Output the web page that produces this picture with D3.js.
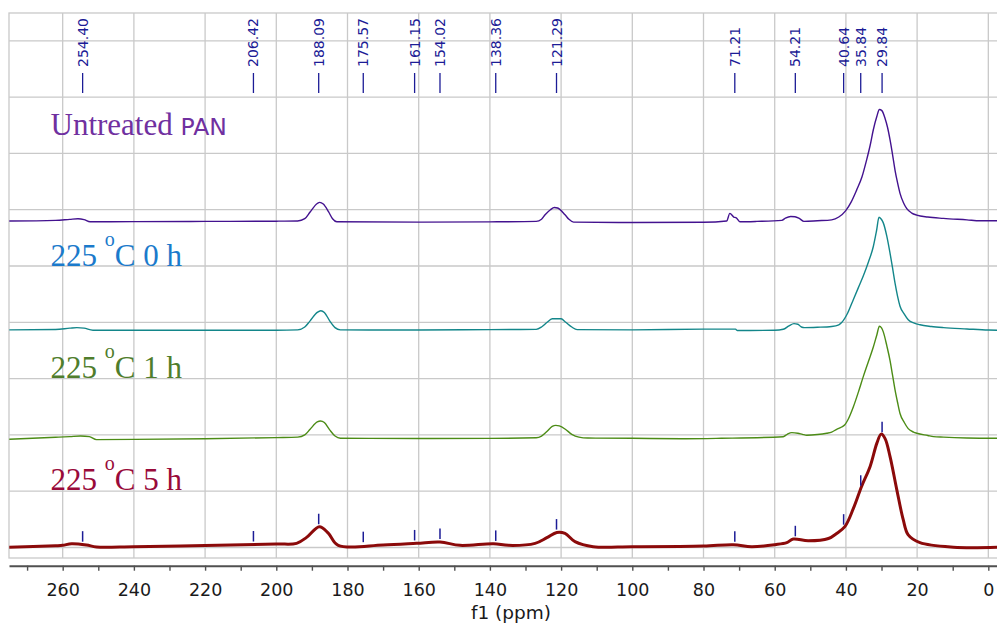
<!DOCTYPE html>
<html>
<head>
<meta charset="utf-8">
<script src="https://cdn.jsdelivr.net/npm/d3@7/dist/d3.min.js"></script>
<style>
  html, body { margin: 0; padding: 0; background: #fff; }
  svg { display: block; }
</style>
</head>
<body>
<svg id="chart" width="997" height="623"></svg>
<script>
// 13C NMR spectra (ppm, relative intensity in % of the tallest peak)
const untreatedPAN = [
  [275, 0.9], [262, 1.5], [258, 2.4], [255.7, 2.9], [254, 2.2], [252.3, 0.3], [240, 0.4], [220, 0.6],
  [200, 0.8], [194, 1.0], [192, 3], [190.5, 9], [188.5, 16.5], [187.8, 17.5], [186.8, 16], [185.3, 9],
  [184.2, 3], [183, 0.3], [160, 0], [140, 0.2], [127, 0.6], [125.5, 2.5], [124.5, 6.5], [123, 11],
  [121.9, 13], [121, 12.5], [118.9, 6.5], [117.8, 2.5], [116.5, 0], [100, -0.4], [80, -0.2], [73.5, 1],
  [72.6, 7.7], [71.5, 4.5], [70.8, 3.8], [69.8, 0.3], [65, 0.6], [58, 1.5], [57, 3.5], [55.5, 5],
  [54.3, 4.8], [53, 3], [51.8, 0.6], [48, 1.2], [44, 2], [42, 4.5], [40.1, 10], [38.5, 18], [37, 28.4],
  [35.5, 40], [34.2, 55], [33.2, 68], [32.3, 82], [31.3, 94], [30.6, 100], [29.9, 99], [29, 92],
  [28.3, 84], [27.6, 73], [26.9, 60], [26.2, 46], [25.5, 35], [24.8, 25.5], [23.8, 17], [22.9, 12],
  [21.5, 8], [20.1, 6.2], [17, 4.5], [12.6, 3.3], [6, 2], [2.3, 1.2], [-3, 1.2]
];
const heated0h = [
  [275, 0], [262, 0.3], [258, 1.5], [256, 2], [254, 1.5], [251.5, -0.4], [240, -0.4], [200, -0.4],
  [194, 0], [192, 2.5], [190.5, 8], [188.5, 15.5], [187.5, 17], [186.5, 15.5], [185, 8], [183.5, 2],
  [182, 0], [160, -0.2], [140, 0.2], [127, 0.4], [125.5, 2.5], [124, 6.5], [122.5, 9.8], [120, 9.8],
  [118.8, 7], [117, 2.5], [115.5, 0.2], [100, 0], [80, 0.6], [71, 0.6], [70.5, -0.6], [60, -0.4],
  [57.6, 0.5], [56, 3.5], [54.6, 5.5], [53.5, 5], [52.5, 2.5], [51.6, 2], [48, 2.3], [44, 3], [42, 4.5],
  [41.2, 6.5], [39.5, 15], [37.9, 27], [36.5, 37.5], [35.1, 48], [33.7, 60], [32.3, 74], [31.4, 88],
  [30.7, 100], [30, 98], [29.5, 95], [28.5, 83], [27.6, 68], [26.9, 55], [26.2, 41.5], [25.5, 30],
  [24.8, 21], [23.6, 14], [22.5, 9], [20.8, 6], [19.2, 4.5], [16, 3], [12.6, 2], [6, 0.8], [0, -0.2],
  [-3, -0.4]
];
const heated1h = [
  [275, -0.9], [262, 0.9], [258, 1.5], [255, 2], [252.5, 1.5], [250.5, -1.2], [240, -1], [220, -0.4],
  [200, 0.6], [194, 1], [192, 3], [190.5, 8], [188.5, 14.5], [187.6, 15.4], [186.5, 14], [185, 7.5],
  [183.5, 2], [182, 0], [160, -0.2], [140, -0.1], [127, 0.5], [125.5, 2], [124, 6], [122.5, 10.5],
  [121.5, 11.5], [120.5, 11], [118.8, 8], [117, 3.5], [115, 1], [112.5, 0.2], [100, 0], [85, -0.4],
  [75, 0], [57.6, 1.4], [56.5, 3.5], [55.2, 5], [53.5, 4.5], [52.2, 3.5], [51, 2.7], [48, 3.3],
  [45.4, 4.5], [44, 5.5], [42.6, 8], [41.2, 10], [40.3, 12], [39.5, 16], [37.9, 28], [36.5, 41],
  [35.1, 55], [33.7, 68], [32.3, 81], [31.3, 92], [30.6, 99.5], [30, 98], [29.5, 94.5], [28.5, 82],
  [27.6, 69], [26.9, 56], [26.2, 43], [25.5, 32], [24.8, 22], [23.6, 14], [22.5, 8.6], [21, 5.5],
  [20.1, 4.5], [17, 2.5], [15.4, 1.5], [12.6, 1], [6, 0.3], [-3, 0]
];
const heated5h = [
  [275, -0.5], [262, 0.8], [260, 1.2], [257.5, 2.7], [253.3, 1.5], [250.5, -0.3], [240, 0], [220, 1],
  [200, 2.4], [194.3, 3], [191.5, 8.3], [187.9, 17.8], [185.4, 12], [182.6, 1.2], [170, 1.5],
  [160.6, 3], [154, 4.2], [148.4, 1.2], [139, 2.7], [134.8, 1.2], [127.3, 3], [124, 8], [121.2, 12.7],
  [118.9, 11.8], [116.1, 4.5], [111, 0], [100, 0], [80, 0.6], [71.6, 1.8], [66.5, 0], [59.9, 1.8],
  [56.6, 3.6], [54.8, 6.8], [50.6, 5.3], [44.9, 7.3], [42.6, 11.8], [40.3, 17.8], [37.9, 34],
  [35.6, 53.5], [33.2, 71.3], [31.3, 92], [30.1, 100], [29, 96], [27.6, 80], [25.7, 50.5], [23.9, 24],
  [22.5, 10.5], [19.2, 3.6], [9.8, -0.4], [-3, -0.4]
];

// stacking offsets (same intensity units) and legend text
const spectraNames = ["Untreated PAN", "225 °C 0 h", "225 °C 1 h", "225 °C 5 h"];
const stackOffsets = [289, 193.3, 97, 0.7];
const lineColors = ["#43128f", "#13868a", "#4c8c16", "#8b0a0a"];
const labelColors = ["#7030a0", "#1b7acb", "#4f7d2c", "#990a3a"];

// picked peaks (ppm) of the 225 °C 5 h spectrum
const peakLabels = [254.40, 206.42, 188.09, 175.57, 161.15, 154.02, 138.36, 121.29, 71.21, 54.21, 40.64, 35.84, 29.84];

// axis ticks
const xTickValues = d3.range(0, 271, 10);
const xLabelValues = d3.range(0, 261, 20);
const yGridValues = d3.range(0, 451, 50);

const svg = d3.select("#chart");
const plotLeft = 9, plotRight = 998, plotTop = 13, plotBottom = 558;

const x = d3.scaleLinear().domain([275.08, -2.72]).range([plotLeft, plotRight]);
const y = d3.scaleLinear().domain([0, 100]).range([547.5, 434.9]);

// grid
const grid = svg.append("g").attr("stroke", "#c9c9c9").attr("stroke-width", 1.3);
grid.selectAll("line.v").data(xLabelValues).join("line").attr("class", "v")
  .attr("x1", d => x(d)).attr("x2", d => x(d)).attr("y1", plotTop).attr("y2", plotBottom);
grid.selectAll("line.h").data(yGridValues).join("line").attr("class", "h")
  .attr("x1", plotLeft).attr("x2", plotRight).attr("y1", d => y(d)).attr("y2", d => y(d));
svg.append("rect").attr("x", plotLeft).attr("y", plotTop)
  .attr("width", plotRight - plotLeft).attr("height", plotBottom - plotTop)
  .attr("fill", "none").attr("stroke", "#c9c9c9").attr("stroke-width", 1.3);

// x axis
const axis = svg.append("g").attr("transform", "translate(0,565.7)")
  .call(d3.axisBottom(x).tickValues(xTickValues).tickSize(5).tickSizeOuter(0)
    .tickFormat(d => (d % 20 === 0 ? d3.format("d")(d) : "")));
axis.select(".domain").attr("stroke", "#505050").attr("stroke-width", 2);
axis.selectAll(".tick line").attr("stroke", "#505050").attr("stroke-width", 1.4);
axis.selectAll(".tick text").attr("fill", "#1a1a1a").attr("font-family", "DejaVu Sans, Verdana, sans-serif")
  .attr("font-size", 17.5).attr("dy", 0).attr("y", 30);

svg.append("text").attr("x", 511).attr("y", 619).attr("text-anchor", "middle")
  .attr("font-family", "DejaVu Sans, Verdana, sans-serif").attr("font-size", 18.5).attr("fill", "#1a1a1a")
  .text("f1 (ppm)");

// spectra
svg.append("clipPath").attr("id", "plotClip").append("rect")
  .attr("x", plotLeft).attr("y", plotTop).attr("width", plotRight - plotLeft).attr("height", plotBottom - plotTop);

const allSpectra = [untreatedPAN, heated0h, heated1h, heated5h];
const traces = svg.append("g").attr("clip-path", "url(#plotClip)");
allSpectra.forEach((data, i) => {
  const line = d3.line()
    .x(d => x(d[0]))
    .y(d => y(d[1] + stackOffsets[i]))
    .curve(i === 3 ? d3.curveCatmullRom.alpha(0.5) : d3.curveMonotoneX);
  traces.append("path").datum(data.slice().reverse())
    .attr("fill", "none").attr("stroke", lineColors[i])
    .attr("stroke-width", i === 3 ? 3 : 1.4)
    .attr("stroke-linejoin", "round")
    .attr("d", line);
});

// intensity of a spectrum at a given shift (linear between points)
function intensityAt(data, ppm) {
  for (let k = 0; k < data.length - 1; k++) {
    const a = data[k], b = data[k + 1];
    if (ppm <= a[0] && ppm >= b[0]) {
      const t = (a[0] - ppm) / (a[0] - b[0]);
      return a[1] + t * (b[1] - a[1]);
    }
  }
  return 0;
}

// peak markers on the 225 °C 5 h trace
const peakColor = "#1c1c96";
svg.append("g").selectAll("line").data(peakLabels).join("line")
  .attr("x1", d => x(d)).attr("x2", d => x(d))
  .attr("y1", d => y(intensityAt(heated5h, d) + stackOffsets[3]) - 3)
  .attr("y2", d => y(intensityAt(heated5h, d) + stackOffsets[3]) - 13.5)
  .attr("stroke", peakColor).attr("stroke-width", 1.5);

// peak list along the top
const pl = svg.append("g");
pl.selectAll("line").data(peakLabels).join("line")
  .attr("x1", d => x(d)).attr("x2", d => x(d)).attr("y1", 73).attr("y2", 93)
  .attr("stroke", peakColor).attr("stroke-width", 1.3);
pl.selectAll("text").data(peakLabels).join("text")
  .attr("transform", d => `translate(${x(d)},67) rotate(-90)`)
  .attr("dy", "0.36em")
  .attr("font-family", "DejaVu Sans, Verdana, sans-serif").attr("font-size", 14)
  .attr("fill", peakColor)
  .text(d => d3.format(".2f")(d));

// spectrum names
const serif = "Liberation Serif, Times New Roman, serif";
const nameBaselines = [135, 265.7, 377.5, 490];
const untreated = svg.append("text").attr("x", 50.5).attr("y", nameBaselines[0])
  .attr("fill", labelColors[0]).attr("font-family", serif).attr("font-size", 31);
untreated.append("tspan").text("Untreated ");
untreated.append("tspan").attr("font-family", "DejaVu Sans, Verdana, sans-serif").attr("font-size", 23.5).text("PAN");

spectraNames.slice(1).forEach((name, j) => {
  const i = j + 1;
  const parts = name.split("°");
  const t = svg.append("text").attr("x", 50.5).attr("y", nameBaselines[i])
    .attr("fill", labelColors[i]).attr("font-family", serif).attr("font-size", 31);
  t.append("tspan").text(parts[0]);
  t.append("tspan").attr("font-size", 20).attr("dy", -20).text("o");
  t.append("tspan").attr("dy", 20).text(parts[1]);
});
</script>
</body>
</html>
